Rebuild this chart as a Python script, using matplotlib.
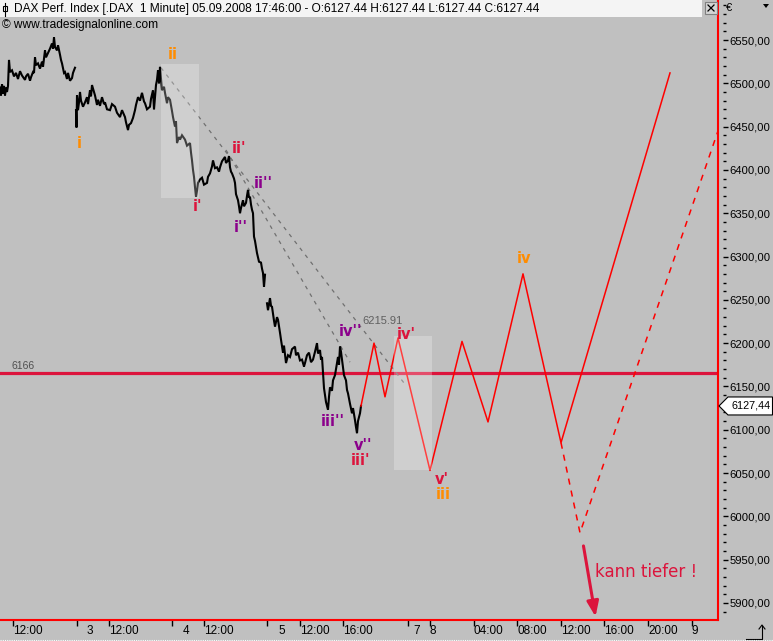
import matplotlib
matplotlib.use('Agg')
import matplotlib.pyplot as plt
from matplotlib.patches import Rectangle, Polygon
from matplotlib.ticker import MultipleLocator

# ---------------- data (x = chart time position, p = DAX price) ----------------
s2_x = [0, 1, 2, 3, 4, 5, 6, 7, 8, 9, 10, 12, 14, 16, 18, 20, 22, 25, 26, 28, 30, 31, 33, 34, 35, 36, 38, 40,
        42, 43, 45, 46, 48, 50, 52, 53, 54, 55, 57, 58, 60, 61, 62, 64, 65, 67, 68, 70, 72, 73, 75]
s2_p = [6495, 6486, 6499, 6488, 6497, 6486, 6495, 6490, 6497, 6527, 6513, 6515, 6508, 6512, 6505, 6514, 6509,
        6504, 6508, 6511, 6503, 6507, 6513, 6512, 6530, 6521, 6523, 6517, 6525, 6519, 6538, 6530, 6535, 6540,
        6546, 6540, 6553, 6542, 6538, 6544, 6533, 6527, 6523, 6512, 6513, 6505, 6512, 6503, 6506, 6512, 6518]

s34_x = [76, 76.5, 77, 78, 79, 80, 81, 83, 85, 87, 88, 90, 91, 92, 94, 95, 97, 98, 100, 102, 104, 105, 107,
         110, 112, 115, 117, 120, 122, 125, 126, 128, 129, 131, 133, 135, 136, 138, 140, 142, 144, 145, 147,
         150, 151, 153, 154, 155, 156, 157, 158, 159, 160, 161, 162, 164, 165, 167, 168, 170, 172, 173, 175,
         176, 177, 179, 180, 182, 185, 187, 190, 191, 192, 193, 194, 195, 196, 197, 198, 200, 202, 204, 207,
         208, 210, 212, 213, 215, 217, 219, 220, 222, 225, 226, 228, 229, 230, 231, 232, 234, 235, 236, 238,
         239, 240, 241, 243, 244, 246, 247, 248, 249, 250, 251, 252, 253, 254, 255, 257, 258, 259, 261, 262,
         263, 264, 265]
s34_p = [6469, 6449, 6486, 6469, 6478, 6490, 6480, 6473, 6478, 6484, 6476, 6492, 6485, 6498, 6490, 6486, 6475,
         6481, 6474, 6484, 6476, 6478, 6470, 6469, 6476, 6473, 6466, 6461, 6469, 6461, 6455, 6446, 6452, 6454,
         6460, 6469, 6475, 6484, 6480, 6489, 6479, 6477, 6470, 6473, 6482, 6492, 6470, 6484, 6498, 6504, 6515,
         6500, 6519, 6505, 6492, 6496, 6489, 6477, 6484, 6481, 6468, 6461, 6450, 6456, 6431, 6438, 6435, 6440,
         6435, 6428, 6431, 6420, 6411, 6400, 6392, 6380, 6369, 6376, 6385, 6389, 6391, 6383, 6385, 6392, 6396,
         6404, 6411, 6402, 6403, 6398, 6403, 6410, 6415, 6408, 6411, 6416, 6403, 6398, 6396, 6390, 6385, 6372,
         6365, 6358, 6350, 6356, 6365, 6358, 6362, 6370, 6377, 6368, 6369, 6360, 6354, 6350, 6323, 6318, 6304,
         6299, 6294, 6293, 6286, 6281, 6265, 6279]

s5_x = [267, 268, 270, 271, 272, 274, 275, 277, 278, 280, 281, 283, 284, 286, 288, 290, 292, 295, 296, 298,
        300, 302, 304, 305, 307, 309, 311, 313, 315, 317, 318, 320, 321, 322, 323, 324, 326, 328, 329, 330,
        332, 333, 335, 338, 339, 340, 341, 343, 344, 346, 347, 348, 350, 352, 353, 355, 356, 357, 358, 360,
        361]
s5_p = [6246, 6238, 6252, 6243, 6242, 6226, 6219, 6230, 6227, 6212, 6204, 6189, 6197, 6177, 6186, 6184, 6193,
        6196, 6186, 6189, 6180, 6181, 6173, 6177, 6186, 6189, 6178, 6181, 6190, 6200, 6188, 6192, 6181, 6184,
        6166, 6148, 6132, 6123, 6138, 6149, 6145, 6157, 6163, 6184, 6175, 6196, 6190, 6172, 6163, 6157, 6146,
        6142, 6130, 6119, 6125, 6111, 6103, 6096, 6110, 6119, 6127.44]

# projected wave path
fut_x = [361, 374, 385, 398, 430, 462, 488, 523, 561, 670]
fut_p = [6127.44, 6200, 6138, 6206, 6053, 6202, 6109, 6280, 6085, 6512]
alt_x = [561, 580, 718]
alt_p = [6085, 5981, 6445]

# trend lines
trend_x = [[161, 404], [226, 350]]
trend_p = [[6518, 6154], [6423, 6178]]

# highlighted boxes (x0, x1, p_low, p_high)
boxes = [(161, 199, 6367.5, 6522), (394, 432, 6053, 6208)]

support_level = 6166
last_price = 6127.44
intersection_label = "6215.91"

# wave labels: text, x, price, colour
ORANGE, CRIMSON, PURPLE = '#ff8c00', '#dc143c', '#8b008b'
wave_labels = [("i", 79, 6431, ORANGE), ("ii", 173, 6533, ORANGE),
               ("ii'", 239, 6425, CRIMSON), ("i'", 198, 6358, CRIMSON),
               ("ii''", 263, 6384, PURPLE), ("i''", 241, 6333, PURPLE),
               ("iv''", 350, 6213, PURPLE), ("iv'", 406, 6210, CRIMSON),
               ("iii''", 333, 6110, PURPLE), ("v''", 363, 6082, PURPLE),
               ("iii'", 360, 6064, CRIMSON), ("v'", 442, 6042, CRIMSON),
               ("iii", 443, 6025, ORANGE), ("iv", 524, 6298, ORANGE)]

# x axis ticks
tick_pos = [13, 77, 109, 172, 204, 267, 300, 343, 408, 430, 474, 517, 561, 604, 648, 692]
tick_lab = ['12:00', '3', '12:00', '4', '12:00', '5', '12:00', '16:00', '7', '8', '04:00', '08:00',
            '12:00', '16:00', '20:00', '9']
tick_lab_off = [0, 10, 0, 11, 0, 11, 0, 0, 5, 0, 0, 0, 0, 0, 0, 0]

y_ticks = list(range(5900, 6551, 50))

# ---------------- figure ----------------
W, H = 773, 641
BG = '#c0c0c0'
fig = plt.figure(figsize=(W / 100, H / 100), dpi=100)
fig.patch.set_facecolor(BG)

ax = fig.add_axes([0, 21 / H, 718 / W, 620 / H])
ax.set_facecolor(BG)
ax.set_xlim(0, 718)
ax.set_ylim(5880.3, 6596.2)

for sp in ['top', 'left']:
    ax.spines[sp].set_visible(False)
for sp in ['right', 'bottom']:
    ax.spines[sp].set_color('red')
    ax.spines[sp].set_linewidth(1.5)

# price line
for xs, ps in [(s2_x, s2_p), (s34_x, s34_p), (s5_x, s5_p)]:
    ax.plot(xs, ps, color='black', lw=1.5, zorder=3, solid_joinstyle='miter')

# support line
ax.axhline(support_level, color=CRIMSON, lw=2.3, zorder=2)
ax.text(12, support_level + 7.5, str(support_level), fontsize=7.5, color='#505050',
        family='Liberation Sans', va='center', ha='left')

# trend lines
for xs, ps in zip(trend_x, trend_p):
    ax.plot(xs, ps, color='#707070', lw=0.9, ls=(0, (3, 4)), zorder=2)
ax.text(362, 6226, intersection_label, fontsize=8, color='#606060', family='Liberation Sans',
        va='center', ha='left', zorder=4)

# projection
ax.plot(fut_x, fut_p, color='red', lw=1.1, zorder=4)
ax.plot(alt_x, alt_p, color='red', lw=1.1, ls=(0, (4, 4)), zorder=4)

# arrow
ax.annotate('', xy=(596, 5881), xytext=(583, 5969),
            arrowprops=dict(arrowstyle='-|>,head_width=0.35,head_length=0.9', color=CRIMSON, lw=2.2),
            zorder=5)
ax.text(595, 5936, 'kann tiefer !', fontsize=12, color=CRIMSON, va='center', ha='left', zorder=5)

# boxes
for x0, x1, lo, hi in boxes:
    ax.add_patch(Rectangle((x0, lo), x1 - x0, hi - lo, facecolor='white', alpha=0.25,
                           edgecolor='none', zorder=6))

# wave labels
for t, x, p, c in wave_labels:
    ax.text(x, p, t, color=c, fontsize=10.5, fontweight='bold', ha='center', va='center', zorder=7)

# x axis
ax.set_xticks(tick_pos)
ax.set_xticklabels([''] * len(tick_pos))
ax.tick_params(axis='x', direction='out', length=4, width=1, color='black')
for pos, lab, off in zip(tick_pos, tick_lab, tick_lab_off):
    ax.text(pos + off, -11 / 620, lab, transform=ax.get_xaxis_transform(), fontsize=8.5,
            family='Liberation Sans', ha='left', va='center')

# y axis (right)
ax.yaxis.tick_right()
ax.set_yticks(y_ticks)
ax.set_yticklabels([f"{v:.2f}".replace('.', ',') for v in y_ticks], family='Liberation Sans',
                   fontsize=8.1)
ax.tick_params(axis='y', length=0, pad=8)

ax2 = fig.add_axes([723 / W, 21 / H, 0.0001, 620 / H])
ax2.set_ylim(ax.get_ylim())
ax2.set_frame_on(False)
ax2.set_xticks([])
ax2.set_yticks(y_ticks)
ax2.yaxis.set_minor_locator(MultipleLocator(10))
ax2.tick_params(axis='y', which='major', direction='in', length=3.6, width=1, labelleft=False)
ax2.tick_params(axis='y', which='minor', direction='in', length=2.2, width=1, labelleft=False)

# ---------------- overlay decorations (pixel coords) ----------------
ov = fig.add_axes([0, 0, 1, 1], zorder=10)
ov.set_xlim(0, W)
ov.set_ylim(H, 0)
ov.axis('off')
ov.patch.set_alpha(0)

ov.add_patch(Rectangle((0, 0), 702, 17, facecolor='#f4f4f4', edgecolor='none'))
ov.plot([5, 5], [3, 16], color='black', lw=0.8)
ov.add_patch(Rectangle((3, 6), 4, 5, facecolor='white', edgecolor='black', lw=0.8))
ov.text(14, 9, "DAX Perf. Index [.DAX  1 Minute] 05.09.2008 17:46:00 - O:6127.44 H:6127.44 L:6127.44 C:6127.44",
        fontsize=8.6, family='Liberation Sans', va='center', ha='left')
ov.text(2, 25, "\u00a9 www.tradesignalonline.com", fontsize=8.6, family='Liberation Sans', va='center',
        ha='left')

# close button
ov.add_patch(Rectangle((705, 2), 12, 12, facecolor='#d4d4d4', edgecolor='#808080', lw=0.8))
ov.plot([708, 714], [5, 11], color='black', lw=0.9)
ov.plot([708, 714], [11, 5], color='black', lw=0.9)
ov.text(726, 8, "\u20ac", fontsize=8, family='Liberation Sans', va='center', ha='left')
ov.add_patch(Polygon([(763, 4), (769, 4), (766, 8)], closed=True, facecolor='black'))

# last price marker
yl = H - ax.transData.transform((0, last_price))[1]
ov.add_patch(Polygon([(719, yl), (728, yl - 9), (772.5, yl - 9), (772.5, yl + 9), (728, yl + 9)],
                     closed=True, facecolor='white', edgecolor='black', lw=0.8))
ov.text(731, yl, f"{last_price:.2f}".replace('.', ','), fontsize=7.8, family='Liberation Sans',
        va='center', ha='left')

# bottom-right icon
ov.plot([746, 762, 762], [639, 639, 626], color='black', lw=0.8)
ov.plot([759, 762, 765], [629, 625, 629], color='black', lw=0.8)
ov.plot([0, W], [640, 640], color='white', lw=0.8, ls=(0, (1, 1)))

fig.savefig('out.png', dpi=100, facecolor=BG)
